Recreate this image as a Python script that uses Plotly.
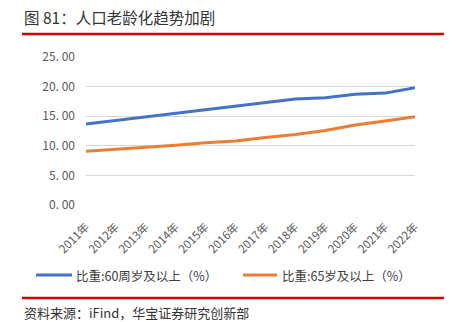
import plotly.graph_objects as go

years = ["2011年", "2012年", "2013年", "2014年", "2015年", "2016年",
         "2017年", "2018年", "2019年", "2020年", "2021年", "2022年"]
share_60 = [13.7, 14.3, 14.9, 15.5, 16.1, 16.7, 17.3, 17.9, 18.1, 18.7, 18.9, 19.8]
share_65 = [9.1, 9.4, 9.7, 10.1, 10.5, 10.8, 11.4, 11.9, 12.6, 13.5, 14.2, 14.9]
series_names = ["比重:60周岁及以上（%）", "比重:65岁及以上（%）"]
y_ticks = [0, 5, 10, 15, 20, 25]
y_tick_text = ["0. 00", "5. 00", "10. 00", "15. 00", "20. 00", "25. 00"]

W, H = 456, 322
L, R, T, B = 86, 415, 57, 205  # plot area in pixels


def px(x):
    return (x - L) / (R - L)


def py(y):
    return (B - y) / (B - T)


FONT = "Noto Sans CJK SC, Arial, sans-serif"
RED = "#d40000"
COLORS = ["#4472c4", "#ed7d31"]

fig = go.Figure()
for vals, name, color in zip([share_60, share_65], series_names, COLORS):
    fig.add_trace(go.Scatter(x=years, y=vals, mode="lines", name=name,
                             line=dict(color=color, width=3)))

fig.update_layout(
    width=W, height=H,
    margin=dict(l=L, r=W - R, t=T, b=H - B),
    paper_bgcolor="white", plot_bgcolor="white",
    font=dict(family=FONT, color="#595959", size=12),
    showlegend=False,
    xaxis=dict(type="category", tickangle=-45, showgrid=False, showline=False,
               ticks="", ticklabelstandoff=12,
               tickfont=dict(size=11.5, color="#595959")),
    yaxis=dict(range=[0, 25], tickvals=y_ticks, ticktext=y_tick_text,
               showgrid=True, gridcolor="#d9d9d9", gridwidth=1, zeroline=False,
               showline=False, ticks="", ticklabelstandoff=10,
               tickfont=dict(size=12, color="#595959")),
)

# legend: line sample + label for each series
legend_y = py(275)
for (x0, x1, xt), name, color in zip([(36, 72, 74), (243, 277, 280)], series_names, COLORS):
    fig.add_shape(type="line", xref="paper", yref="paper", x0=px(x0), x1=px(x1),
                  y0=legend_y, y1=legend_y, line=dict(color=color, width=3))
    fig.add_annotation(text=name, xref="paper", yref="paper", x=px(xt), y=legend_y,
                       xanchor="left", yanchor="middle", showarrow=False,
                       font=dict(size=12.5, color="#404040", family=FONT))

# title, rules and source note
fig.add_annotation(text="图 81：人口老龄化趋势加剧", xref="paper", yref="paper",
                   x=px(22), y=py(17), xanchor="left", yanchor="middle", showarrow=False,
                   font=dict(size=15.5, color="#333333", family=FONT))
fig.add_shape(type="line", xref="paper", yref="paper", x0=px(22), x1=px(444),
              y0=py(34), y1=py(34), line=dict(color=RED, width=2.5))
fig.add_shape(type="line", xref="paper", yref="paper", x0=px(22), x1=px(444),
              y0=py(298), y1=py(298), line=dict(color=RED, width=2.5))
fig.add_annotation(text="资料来源：iFind，华宝证券研究创新部", xref="paper", yref="paper",
                   x=px(22), y=py(312), xanchor="left", yanchor="middle", showarrow=False,
                   font=dict(size=13, color="#333333", family=FONT))

fig.write_html("out.html")
